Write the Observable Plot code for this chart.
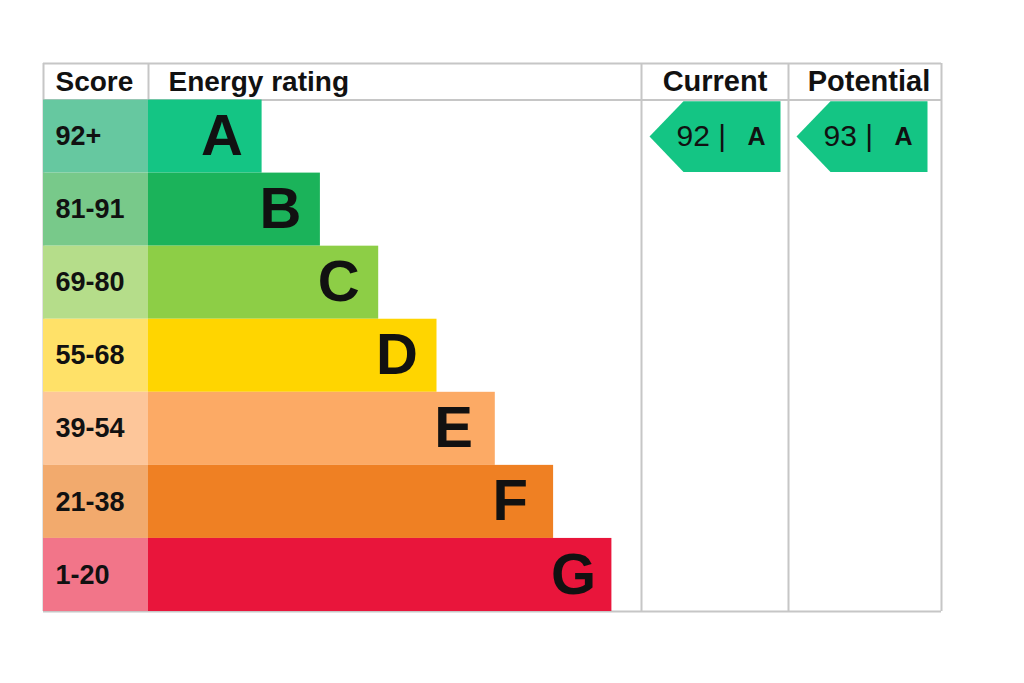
<!DOCTYPE html>
<html>
<head>
<meta charset="utf-8">
<script src="https://cdn.jsdelivr.net/npm/d3@7"></script>
<script src="https://cdn.jsdelivr.net/npm/@observablehq/plot@0.6"></script>
<style>
  html, body { margin: 0; padding: 0; background: #ffffff; }
  #chart svg { display: block; }
</style>
</head>
<body>
<div id="chart"></div>
<script>
// ---- Data ----
const ratings = ["A", "B", "C", "D", "E", "F", "G"];
const scoreRanges = ["92+", "81-91", "69-80", "55-68", "39-54", "21-38", "1-20"];
const barColors = ["#14c584", "#1bb35a", "#8dce46", "#ffd500", "#fcaa65", "#ef8023", "#e9153b"];
const cellColors = ["#66c8a0", "#78c98a", "#b5dd8a", "#ffe168", "#fdc69a", "#f2aa6d", "#f27589"];
const headers = ["Score", "Energy rating", "Current", "Potential"];
const indicatorNames = ["Current", "Potential"];
const indicatorScores = [92, 93];
const indicatorRatings = ["A", "A"];

// ---- Layout (x in pixel-like units from the table's left edge; y in row units) ----
const W = 1024, H = 683;
const colEdges = [0, 105, 598, 745, 898];   // Score | Energy rating | Current | Potential
const headerH = 0.5;                        // header height in row units
const nRows = ratings.length;
const yMax = headerH + nRows;
const barStep = 58.3;
const arrowTip = 8, arrowShoulder = 42, arrowRight = 139;
const gridColor = "#c6c6c6";
const font = "Liberation Sans, Arial, Helvetica, sans-serif";

const rows = ratings.map((r, i) => ({
  rating: r,
  score: scoreRanges[i],
  bar: barColors[i],
  cell: cellColors[i],
  top: headerH + i,
  bottom: headerH + i + 1,
  mid: headerH + i + 0.5,
  barEnd: colEdges[1] + barStep * (i + 2) - 3
}));

const headerLeft = headers.slice(0, 2).map((h, i) => ({
  label: h, x: colEdges[i] + (i === 0 ? 12 : 20)
}));
const headerCenter = headers.slice(2).map((h, j) => ({
  label: h, x: (colEdges[j + 2] + colEdges[j + 3]) / 2 + (j === 1 ? 4 : 0)
}));

// indicator arrows
const arrowPts = [];
const arrowLabels = [];
indicatorNames.forEach((name, k) => {
  const ri = ratings.indexOf(indicatorRatings[k]);
  const c0 = colEdges[2 + k];
  const top = headerH + ri + 0.015, bot = headerH + ri + 0.985, mid = headerH + ri + 0.5;
  const pts = [
    [c0 + arrowTip, mid],
    [c0 + arrowShoulder, top],
    [c0 + arrowRight, top],
    [c0 + arrowRight, bot],
    [c0 + arrowShoulder, bot],
    [c0 + arrowTip, mid]
  ];
  pts.forEach(([x, y]) => arrowPts.push({ name, x, y, color: barColors[ri] }));
  arrowLabels.push({ name, x: c0 + 35, xl: c0 + 106, y: mid,
    num: `${indicatorScores[k]} |`, letter: indicatorRatings[k] });
});

const hLines = [0, headerH, yMax];
const vLines = [
  { x: colEdges[0], y1: 0, y2: yMax },
  { x: colEdges[1], y1: 0, y2: headerH },
  { x: colEdges[2], y1: 0, y2: yMax },
  { x: colEdges[3], y1: 0, y2: yMax },
  { x: colEdges[4], y1: 0, y2: yMax }
];

const chart = Plot.plot({
  width: W,
  height: H,
  marginLeft: 43,
  marginRight: W - 43 - colEdges[4],
  marginTop: 63,
  marginBottom: 72,
  x: { domain: [0, colEdges[4]], axis: null },
  y: { domain: [0, yMax], reverse: true, axis: null },
  style: { background: "#ffffff", fontFamily: font },
  marks: [
    Plot.ruleY(hLines, { y: d => d, x1: colEdges[0], x2: colEdges[4], stroke: gridColor, strokeWidth: 2 }),
    Plot.ruleX(vLines, { x: "x", y1: "y1", y2: "y2", stroke: gridColor, strokeWidth: 2 }),
    Plot.rect(rows, { x1: colEdges[0], x2: colEdges[1], y1: "top", y2: "bottom", fill: "cell" }),
    Plot.rect(rows, { x1: colEdges[1], x2: "barEnd", y1: "top", y2: "bottom", fill: "bar" }),
    Plot.text(rows, { x: colEdges[0] + 12, y: "mid", text: "score", textAnchor: "start",
      fontSize: 27, fontWeight: "bold", fill: "#111", fontFamily: font }),
    Plot.text(rows, { x: "barEnd", y: "mid", text: "rating", textAnchor: "start", dx: -61,
      fontSize: 58, fontWeight: "bold", fill: "#111", fontFamily: font }),
    Plot.text(headerLeft, { x: "x", y: headerH / 2, text: "label", textAnchor: "start",
      fontSize: 28, fontWeight: "bold", fill: "#111", fontFamily: font }),
    Plot.text(headerCenter, { x: "x", y: headerH / 2, text: "label", textAnchor: "middle",
      fontSize: 29, fontWeight: "bold", fill: "#111", fontFamily: font }),
    Plot.line(arrowPts, { x: "x", y: "y", z: "name", fill: "color", stroke: "none" }),
    Plot.text(arrowLabels, { x: "x", y: "y", text: "num", textAnchor: "start",
      fontSize: 30, fill: "#111", fontFamily: font }),
    Plot.text(arrowLabels, { x: "xl", y: "y", text: "letter", textAnchor: "start",
      fontSize: 25, fontWeight: "bold", fill: "#111", fontFamily: font })
  ]
});
document.getElementById("chart").appendChild(chart);
</script>
</body>
</html>
